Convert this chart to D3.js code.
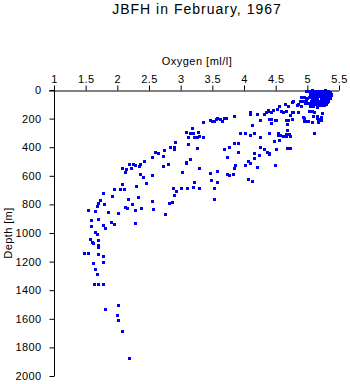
<!DOCTYPE html>
<html>
<head>
<meta charset="utf-8">
<script src="https://cdn.jsdelivr.net/npm/d3@7"></script>
<style>
  html, body { margin: 0; padding: 0; background: #fff; }
  svg { display: block; }
  text { font-family: "Liberation Sans", Arial, sans-serif; fill: #000; }
</style>
</head>
<body>
<div id="chart"></div>
<script>
const title = "JBFH in February, 1967";
const xLabel = "Oxygen [ml/l]";
const yLabel = "Depth [m]";
const xTicks = [1, 1.5, 2, 2.5, 3, 3.5, 4, 4.5, 5, 5.5];
const yTicks = [0, 200, 400, 600, 800, 1000, 1200, 1400, 1600, 1800, 2000];

// [oxygen ml/l, depth m]
const deepSamples = [
  [2.18,1871],[2.08,1687],[2.01,1605],[1.99,1570],[1.81,1531],[2.01,1505],
  [1.57,1043],[1.60,1062],[1.62,1073],[1.70,1050],[1.70,1085],[1.70,1097],[1.48,1139],[1.54,1139],
  [1.70,1148],[1.78,1162],[1.61,1213],[1.77,1204],[1.65,1255],[1.68,1286],[1.63,1360],[1.70,1360],[1.77,1360]
];
const midSamples = [
  [2.83,401],[2.89,401],[2.91,366],[2.73,420],[2.60,432],[2.64,443],[2.72,460],[2.55,471],[2.80,520],[2.72,530],
  [2.42,495],[2.18,520],[2.24,520],[2.28,525],[2.35,518],[2.34,532],[2.08,544],[2.14,553],[2.21,548],[2.12,576],
  [2.36,590],[2.40,611],[2.54,595],[2.45,653],[2.07,660],[2.04,691],[2.11,695],[1.95,695],[2.29,672],[1.77,723],
  [1.92,742],[2.17,761],[2.33,751],[2.54,779],[1.72,772],[1.70,793],[1.79,796],[1.68,810],[2.23,800],[2.12,821],
  [2.15,826],[2.37,824],[2.56,831],[2.88,688],[2.90,735],[2.81,793],[2.86,784],[1.54,842],[1.65,845],[1.86,856],
  [2.01,863],[2.28,842],[2.75,868],[1.59,912],[1.70,905],[1.90,922],[1.95,938],[2.28,929],[1.59,950],[1.77,943],
  [1.81,968],[1.65,994],[1.68,1006],[2.90,413],[2.92,707],
  [3.08,294],[3.11,327],[3.15,303],[3.19,303],[3.21,327],[3.28,294],[3.29,320],[3.35,331],[3.25,331],[3.18,268],
  [3.12,380],[3.26,408],[3.08,502],[3.14,483],[3.08,513],[3.02,572],[3.21,646],[3.29,544],[3.00,688],[3.10,688],
  [3.19,681],[3.29,688],[3.53,688],[3.53,763],[3.46,583],[3.48,632],[3.57,646],[3.58,565],[3.73,471],[3.69,415],
  [3.77,397],[3.84,373],[3.91,369],[3.91,436],[3.73,590],[3.77,597],[3.82,590],[3.84,548],[3.85,527],[4.06,625],
  [4.13,639],[4.10,513],[4.06,499],[4.02,527],[4.20,541],[4.49,525],[4.16,443],[4.23,455],[4.16,474],[4.37,432],
  [4.26,399],[4.32,415],[4.39,443],[4.50,415],[4.72,408],[4.68,408],[4.40,446],
  [3.35,222],[3.47,210],[3.50,215],[3.52,217],[3.55,205],[3.58,194],[3.62,205],[3.65,217],[3.68,198],[3.72,198],
  [3.84,182],[4.09,168],[4.10,156],[4.21,168],[4.31,168],[4.34,156],[4.38,145],[4.40,203]
];
const upperSamples = [
  [4.53,317],[4.53,303],[4.40,303],[4.01,303],[3.93,303],[4.16,303],[4.10,315],[4.26,331],[4.48,357],[4.55,350],
  [4.67,306],[4.71,306],[4.72,322],[4.66,322],[4.57,315],[4.62,320],[4.68,278],[5.11,303],[4.12,245],[4.26,210],
  [4.42,205],[4.50,212],[4.43,233],[4.66,210],[4.75,205],[4.68,238],[4.95,194],[4.99,217],[5.07,222],[5.21,210],
  [5.17,226],[5.16,180],[5.23,163],[5.15,198],[5.18,205],
  [4.55,110],[4.64,100],[4.69,110],[4.76,82],[4.86,100],[4.90,110],[4.38,140],[4.35,156],[4.43,156],[4.46,140],
  [4.52,133],[4.59,147],[4.61,156],[4.66,147],[4.76,156],[4.72,175],[4.86,156],[4.42,203],[4.49,210],[4.69,210],
  [4.75,203],[4.95,217],[5.01,217],[4.77,75],[4.83,103],[4.78,152],[4.93,191]
];
const surfaceSamples = [
  [4.90,49],[4.95,49],[5.00,56],[5.03,49],[4.89,77],[4.93,77],[4.98,70],[4.96,91],[5.01,91],[5.05,98],
  [5.04,112],[5.09,112],[5.15,119],[5.02,147],[5.07,150],[5.10,154],[5.09,182],[5.15,185],[5.22,187],[5.17,200],[5.22,196],
  [4.98,5],[5.03,8],[5.08,3],[5.13,6],[5.18,4],[5.23,7],[5.28,3],[5.33,6],
  [5.06,15],[5.12,18],[5.17,14],[5.22,20],[5.27,16],[5.32,22],[5.37,25],
  [5.05,30],[5.10,33],[5.15,28],[5.20,35],[5.25,31],[5.30,36],[5.36,38],[5.38,33],
  [5.04,45],[5.09,42],[5.14,48],[5.19,44],[5.24,50],[5.29,46],[5.34,52],
  [5.07,60],[5.12,57],[5.16,63],[5.21,58],[5.26,65],[5.31,61],[5.36,59],
  [5.06,74],[5.11,71],[5.18,77],[5.23,73],[5.28,79],[5.33,75],
  [5.09,88],[5.14,85],[5.19,92],[5.24,89],[5.29,95],
  [5.12,100],[5.17,105],[5.22,102],[5.27,108],
  [5.08,24],[5.14,38],[5.19,26],[5.24,40],[5.29,28],[5.34,42],[5.11,52],[5.16,54],[5.21,67],[5.27,53],
  [5.32,68],[5.08,80],[5.14,95],[5.20,83],[5.25,99],[5.31,86],[5.10,10],[5.20,12],[5.30,14],[5.35,16]
];

const samples = deepSamples.concat(midSamples, upperSamples, surfaceSamples);

const W = 350, H = 384;
const svg = d3.select("#chart").append("svg").attr("width", W).attr("height", H);

const x = d3.scaleLinear().domain([1, 5.5]).range([54, 339]);
const y = d3.scaleLinear().domain([0, 2000]).range([90, 376]);

// title
svg.append("text").attr("x", 197).attr("y", 14).attr("text-anchor", "middle")
  .style("font-size", "14px").style("letter-spacing", "1px").text(title);

// x axis (top)
const xAxis = d3.axisTop(x).tickValues(xTicks).tickSize(5).tickPadding(3)
  .tickFormat(d3.format("~g"));
const gx = svg.append("g").attr("transform", "translate(0,90.5)").call(xAxis);
gx.select(".domain").attr("d", `M49,0.5H339`).attr("stroke", "#000");
gx.selectAll(".tick line").attr("stroke", "#000");
gx.selectAll(".tick text").style("font-size", "11px").style("letter-spacing", "0.4px").attr("fill", "#000");
gx.attr("font-family", null).attr("font-size", null);

svg.append("text").attr("x", 197).attr("y", 65).attr("text-anchor", "middle")
  .style("font-size", "11px").style("letter-spacing", "0.5px").text(xLabel);

// y axis (left)
const yAxis = d3.axisLeft(y).tickValues(yTicks).tickSize(5).tickPadding(8)
  .tickFormat(d3.format("d"));
const gy = svg.append("g").attr("transform", "translate(54.5,0)").call(yAxis);
gy.select(".domain").attr("d", `M0,90V376`).attr("stroke", "#000");
gy.selectAll(".tick line").attr("stroke", "#000");
gy.selectAll(".tick text").style("font-size", "11px").style("letter-spacing", "0.4px").attr("fill", "#000");
gy.attr("font-family", null).attr("font-size", null);

svg.append("text").attr("transform", "translate(12,233) rotate(-90)")
  .attr("text-anchor", "middle").style("font-size", "11px").style("letter-spacing", "0.4px").text(yLabel);

// points
svg.append("g").selectAll("rect").data(samples).join("rect")
  .attr("x", d => Math.round(x(d[0])) - 1)
  .attr("y", d => Math.round(y(d[1])) - 1)
  .attr("width", 3).attr("height", 3)
  .attr("fill", "#0000f0");
</script>
</body>
</html>
